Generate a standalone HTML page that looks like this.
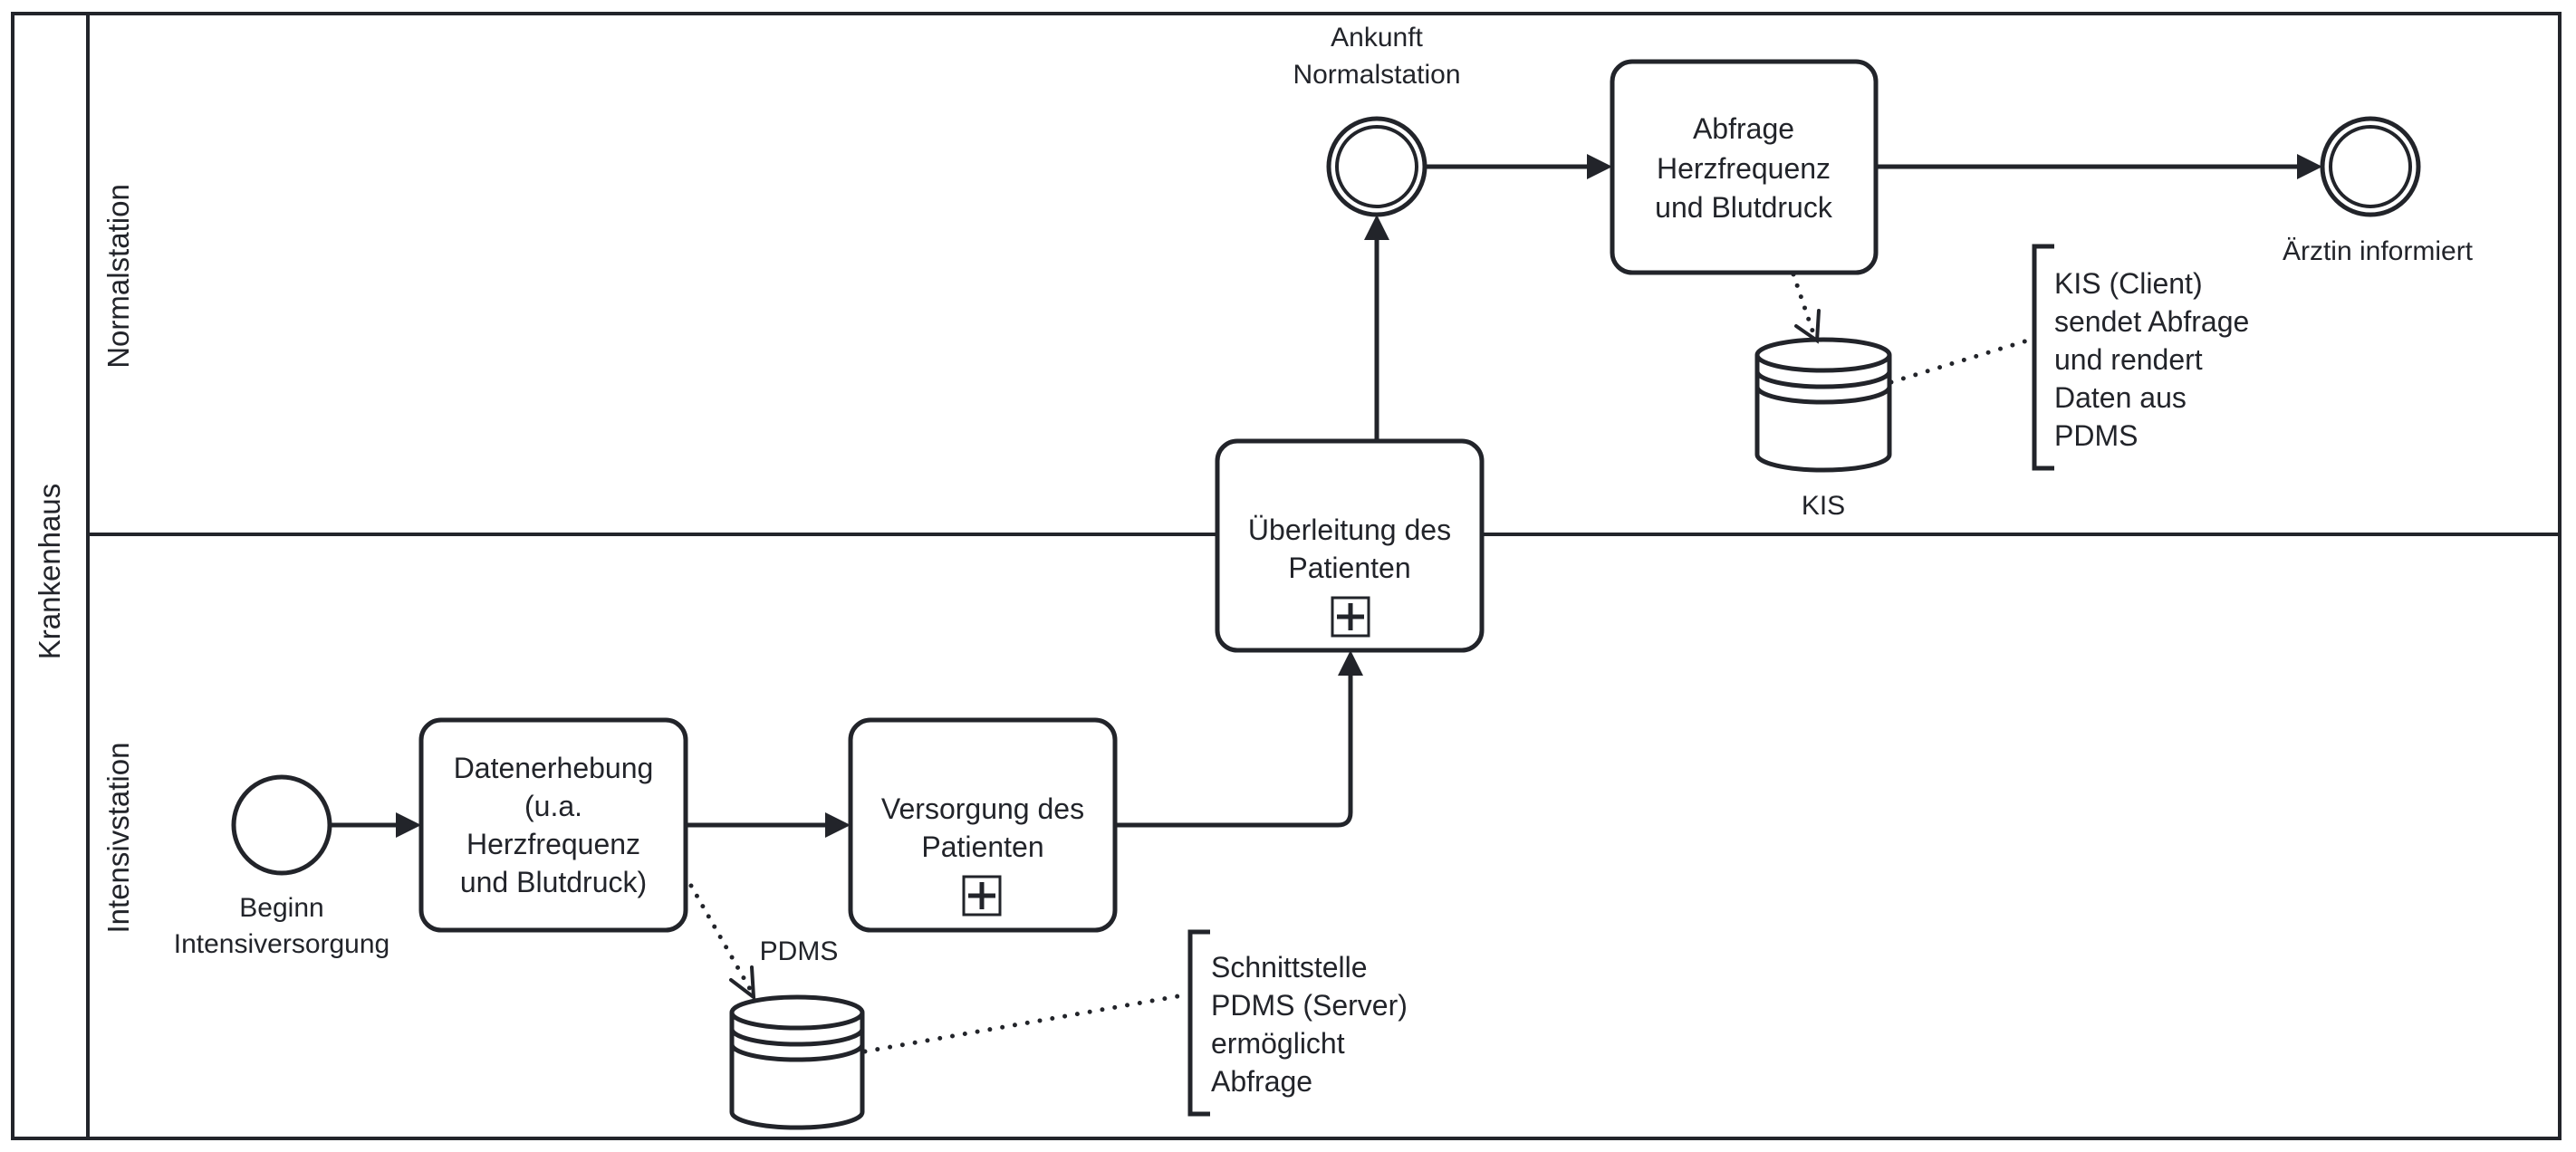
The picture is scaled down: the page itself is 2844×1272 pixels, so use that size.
<!DOCTYPE html>
<html><head><meta charset="utf-8"><style>
html,body{margin:0;padding:0;background:#fff;}
svg{display:block;}
text{font-family:"Liberation Sans",sans-serif;fill:#22242a;}
</style></head><body>
<svg width="2844" height="1272" viewBox="0 0 2844 1272" xmlns="http://www.w3.org/2000/svg">
<g stroke="#22242a" fill="none">
<rect x="14" y="15" width="2812" height="1242" stroke-width="4"/>
<line x1="97" y1="15" x2="97" y2="1257" stroke-width="4"/>
<line x1="97" y1="590" x2="2826" y2="590" stroke-width="4"/>
</g>
<text transform="translate(66,631) rotate(-90)" font-size="33" text-anchor="middle">Krankenhaus</text>
<text transform="translate(142,305) rotate(-90)" font-size="33" text-anchor="middle">Normalstation</text>
<text transform="translate(142,925) rotate(-90)" font-size="33" text-anchor="middle">Intensivstation</text>

<g stroke="#22242a" stroke-width="5" fill="#fff">
<circle cx="311" cy="911" r="53"/>
<rect x="465" y="795" width="292" height="232" rx="22"/>
<rect x="939" y="795" width="292" height="232" rx="22"/>
<rect x="1344" y="487" width="292" height="231" rx="22"/>
<rect x="1780" y="68" width="291" height="233" rx="22"/>
<circle cx="1520" cy="184" r="53"/>
<circle cx="1520" cy="184" r="44" stroke-width="4"/>
<circle cx="2617" cy="184" r="53"/>
<circle cx="2617" cy="184" r="44" stroke-width="4"/>
</g>
<g stroke="#22242a" stroke-width="5" fill="none">
<line x1="364" y1="911" x2="440" y2="911"/>
<line x1="757" y1="911" x2="914" y2="911"/>
<path d="M1231 911 H1477 Q1491 911 1491 897 V742"/>
<line x1="1520" y1="487" x2="1520" y2="262"/>
<line x1="1573" y1="184" x2="1756" y2="184"/>
<line x1="2071" y1="184" x2="2540" y2="184"/>
</g>
<g fill="#22242a">
<polygon points="465,911 437,897 437,925"/>
<polygon points="939,911 911,897 911,925"/>
<polygon points="1491,718 1477,746 1505,746"/>
<polygon points="1520,237 1506,265 1534,265"/>
<polygon points="1780,184 1752,170 1752,198"/>
<polygon points="2564,184 2536,170 2536,198"/>
</g>
<g stroke="#22242a" fill="#fff">
<rect x="1064" y="968" width="40" height="42" stroke-width="3"/>
<rect x="1471" y="660" width="40" height="42" stroke-width="3"/>
</g>
<g stroke="#22242a" stroke-width="5">
<line x1="1084" y1="974" x2="1084" y2="1004"/><line x1="1069" y1="989" x2="1099" y2="989"/>
<line x1="1491" y1="666" x2="1491" y2="696"/><line x1="1476" y1="681" x2="1506" y2="681"/>
</g>
<g stroke="#22242a" stroke-width="5" fill="#fff">
<path d="M808 1118 V1228 A72 17 0 0 0 952 1228 V1118"/>
<ellipse cx="880" cy="1118" rx="72" ry="17"/>
<path d="M808 1136 A72 17 0 0 0 952 1136" fill="none"/>
<path d="M808 1153 A72 17 0 0 0 952 1153" fill="none"/>
<path d="M1940 392 V502 A73 17 0 0 0 2086 502 V392"/>
<ellipse cx="2013" cy="392" rx="73" ry="17"/>
<path d="M1940 410 A73 17 0 0 0 2086 410" fill="none"/>
<path d="M1940 427 A73 17 0 0 0 2086 427" fill="none"/>
</g>
<g stroke="#22242a" stroke-width="5" fill="none" stroke-linecap="round">
<line x1="763" y1="978" x2="828" y2="1092" stroke-dasharray="0 13"/>
<polyline points="807,1082 832,1101 830,1068" stroke-width="4"/>
<line x1="955" y1="1161" x2="1312" y2="1098" stroke-dasharray="0 14"/>
<line x1="1980" y1="303" x2="2002" y2="368" stroke-dasharray="0 13"/>
<polyline points="1983,360 2006,376 2008,343" stroke-width="4"/>
<line x1="2088" y1="422" x2="2245" y2="374" stroke-dasharray="0 14"/>
</g>
<g stroke="#22242a" stroke-width="5" fill="none">
<polyline points="1336,1029 1314,1029 1314,1230 1336,1230"/>
<polyline points="2268,272 2246,272 2246,517 2268,517"/>
</g>
<g font-size="32" text-anchor="middle">
<text x="611" y="859">Datenerhebung</text>
<text x="611" y="901">(u.a.</text>
<text x="611" y="943">Herzfrequenz</text>
<text x="611" y="985">und Blutdruck)</text>
<text x="1085" y="904">Versorgung des</text>
<text x="1085" y="946">Patienten</text>
<text x="1490" y="596">Überleitung des</text>
<text x="1490" y="638">Patienten</text>
<text x="1925" y="153">Abfrage</text>
<text x="1925" y="197">Herzfrequenz</text>
<text x="1925" y="240">und Blutdruck</text>
</g>
<g font-size="30" text-anchor="middle">
<text x="311" y="1012">Beginn</text>
<text x="311" y="1052">Intensiversorgung</text>
<text x="1520" y="51">Ankunft</text>
<text x="1520" y="92">Normalstation</text>
<text x="2625" y="287">Ärztin informiert</text>
<text x="882" y="1060">PDMS</text>
<text x="2013" y="568">KIS</text>
</g>
<g font-size="32">
<text x="1337" y="1079">Schnittstelle</text>
<text x="1337" y="1121">PDMS (Server)</text>
<text x="1337" y="1163">ermöglicht</text>
<text x="1337" y="1205">Abfrage</text>
<text x="2268" y="324">KIS (Client)</text>
<text x="2268" y="366">sendet Abfrage</text>
<text x="2268" y="408">und rendert</text>
<text x="2268" y="450">Daten aus</text>
<text x="2268" y="492">PDMS</text>
</g>
</svg>
</body></html>
